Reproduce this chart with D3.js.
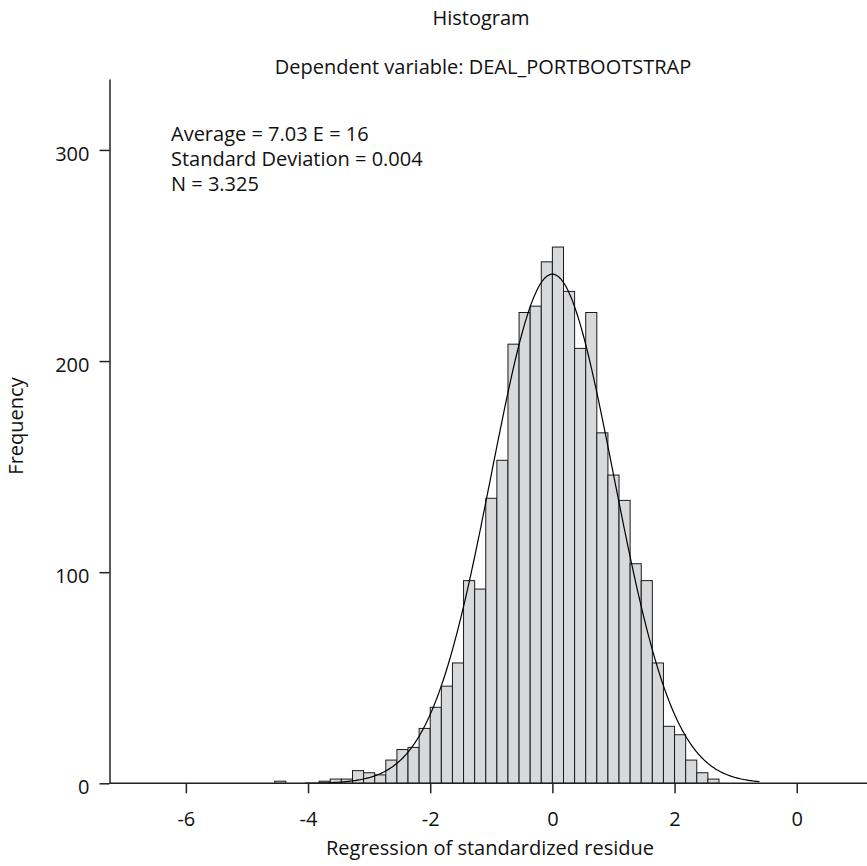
<!DOCTYPE html>
<html>
<head>
<meta charset="utf-8">
<script src="https://cdn.jsdelivr.net/npm/d3@7"></script>
<style>
  body { margin: 0; background: #fff; }
  svg { display: block; font-family: "Open Sans", "Noto Sans", sans-serif; }
  text { fill: #111; }
</style>
</head>
<body>
<div class="chart"></div>
<script>
// histogram counts, one per bin, left to right
var binFirstEdge = -4.545;
var binWidth = 0.1818;
var counts = [1, 0, 0, 0, 1, 2, 2, 6, 5, 4, 11, 16, 17, 26, 36, 46, 57, 96, 92, 135,
              153, 208, 223, 226, 247, 254, 233, 206, 223, 166, 146, 134, 104, 96, 57,
              27, 23, 11, 5, 2];

// fitted normal curve
var curveMean = 0.0;
var curveSd = 1.0;
var curveN = 3325;
var curveRange = [-4.05, 3.4];

var xTicks = [-6, -4, -2, 0, 2, 4];
var xTickLabels = ['-6', '-4', '-2', '0', '2', '0'];
var yTicks = [0, 100, 200, 300];

var statsLines = ['Average = 7.03 E = 16', 'Standard Deviation = 0.004', 'N = 3.325'];

var width = 867, height = 866;

var svg = d3.select('.chart')
  .append('svg')
  .attr('width', width)
  .attr('height', height);

var x = d3.scaleLinear().domain([-7.25, 5.15]).range([109.5, 867]);
var y = d3.scaleLinear().domain([0, 333.6]).range([783.3, 79]);

var bins = counts.map(function(c, i) {
  return { x0: binFirstEdge + i * binWidth, x1: binFirstEdge + (i + 1) * binWidth, count: c };
});

svg.append('g')
  .selectAll('rect')
  .data(bins.filter(function(d) { return d.count > 0; }))
  .enter()
  .append('rect')
    .attr('x', function(d) { return x(d.x0); })
    .attr('width', function(d) { return x(d.x1) - x(d.x0); })
    .attr('y', function(d) { return y(d.count); })
    .attr('height', function(d) { return y(0) - y(d.count); })
    .attr('fill', '#d8d9db')
    .attr('stroke', '#1a1a1a')
    .attr('stroke-width', 1);

// normal curve scaled to counts
var pts = [];
for (var v = curveRange[0]; v <= curveRange[1] + 1e-9; v += 0.02) {
  var z = (v - curveMean) / curveSd;
  pts.push([v, curveN * binWidth * Math.exp(-0.5 * z * z) / (curveSd * Math.sqrt(2 * Math.PI))]);
}
svg.append('path')
  .datum(pts)
  .attr('fill', 'none')
  .attr('stroke', '#000')
  .attr('stroke-width', 1.2)
  .attr('d', d3.line()
    .x(function(d) { return x(d[0]); })
    .y(function(d) { return y(d[1]); }));

// axes
var xAxis = svg.append('g')
  .attr('transform', 'translate(0,' + y(0) + ')')
  .call(d3.axisBottom(x).tickValues(xTicks)
    .tickFormat(function(d, i) { return xTickLabels[i]; })
    .tickSize(10).tickSizeOuter(0));
xAxis.select('.domain').attr('d', 'M' + x.range()[0] + ',0H' + x.range()[1]);
xAxis.selectAll('text').attr('y', 43).attr('dy', null);

var yAxis = svg.append('g')
  .attr('transform', 'translate(' + x.range()[0] + ',0)')
  .call(d3.axisLeft(y).tickValues(yTicks).tickSize(10).tickSizeOuter(0));
yAxis.selectAll('text').attr('x', -20).attr('dy', '10.5px');

svg.selectAll('.domain, .tick line')
  .attr('stroke', '#222')
  .attr('stroke-width', 1.5);
svg.selectAll('.tick text')
  .attr('font-size', '20px')
  .attr('font-family', '"Open Sans", sans-serif')
  .attr('fill', '#111');

// titles
svg.append('text')
  .attr('x', 481).attr('y', 25)
  .attr('text-anchor', 'middle')
  .attr('font-size', '20px')
  .text('Histogram');

svg.append('text')
  .attr('x', 483).attr('y', 74)
  .attr('text-anchor', 'middle')
  .attr('font-size', '20px')
  .text('Dependent variable: DEAL_PORTBOOTSTRAP');

svg.append('g')
  .selectAll('text')
  .data(statsLines)
  .enter()
  .append('text')
    .attr('x', 171)
    .attr('y', function(d, i) { return 141 + i * 25; })
    .attr('font-size', '20px')
    .text(function(d) { return d; });

svg.append('text')
  .attr('transform', 'translate(23,426) rotate(-90)')
  .attr('text-anchor', 'middle')
  .attr('font-size', '20px')
  .text('Frequency');

svg.append('text')
  .attr('x', 490).attr('y', 855)
  .attr('text-anchor', 'middle')
  .attr('font-size', '20px')
  .text('Regression of standardized residue');
</script>
</body>
</html>
